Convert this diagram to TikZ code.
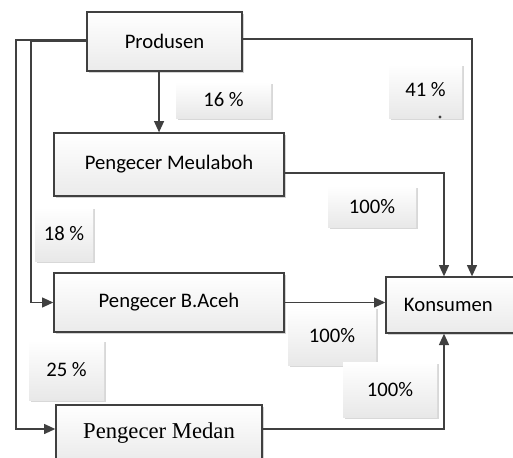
\documentclass[tikz,border=0pt]{standalone}
\usepackage{fontspec}
\setmainfont{Carlito}
\newfontfamily\tnr{Liberation Serif}
\usetikzlibrary{arrows.meta,shadows}
\definecolor{ln}{HTML}{404040}
\definecolor{shd}{HTML}{C8C8C8}
\tikzset{
  boxnode/.style={draw=ln, line width=1pt, top color=white, bottom color=black!8,
    inner sep=0pt, font=\fontsize{15.5}{18}\selectfont,
    drop shadow={shadow xshift=1.5pt, shadow yshift=-1.5pt, fill=shd, opacity=0.8}},
  lbl/.style={top color=white, bottom color=black!9, inner sep=0pt,
    font=\fontsize{15.5}{18}\selectfont,
    drop shadow={shadow xshift=1.5pt, shadow yshift=-1.5pt, fill=shd, opacity=0.7}},
  arr/.style={draw=ln, line width=1.1pt, -{Triangle[length=8.5pt,width=7.5pt]}},
  ln/.style={draw=ln, line width=1.1pt}
}
\begin{document}
\begin{tikzpicture}[x=0.75pt,y=-0.75pt]
\useasboundingbox (0,0) rectangle (513,457);
\clip (0,0) rectangle (513,457);
% labels
\node[lbl, minimum width=71.25pt, minimum height=27pt] (l16) at (223.5,100) {16 \%};
\node[lbl, minimum width=54.75pt, minimum height=40.5pt] (l41) at (425.5,91) {\raisebox{2pt}{41 \%}};
\fill[ln] (440,117) circle (0.5pt);
\node[lbl, minimum width=66pt, minimum height=30.75pt] (l100a) at (372,206.5) {100\%};
\node[lbl, minimum width=43.5pt, minimum height=40.5pt] (l18) at (64,234) {18 \%};
\node[lbl, minimum width=56.25pt, minimum height=45pt] (l25) at (66.5,370) {25 \%};
\node[lbl, minimum width=66pt, minimum height=43.5pt] (l100b) at (332,336) {100\%};
\node[lbl, minimum width=70.5pt, minimum height=41.25pt] (l100c) at (390,389.5) {100\%};
% boxes
\node[boxnode, minimum width=116.25pt, minimum height=44.25pt] (prod) at (164.5,41.5) {Produsen};
\node[boxnode, minimum width=172.5pt, minimum height=47.25pt] (meul) at (169,164.5) {Pengecer Meulaboh};
\node[boxnode, minimum width=172.5pt, minimum height=44.25pt] (aceh) at (169,302.5) {Pengecer B.Aceh};
\node[boxnode, minimum width=154.5pt, minimum height=42pt, font=\tnr\fontsize{17}{20}\selectfont] (medan) at (159,433) {Pengecer Medan};
\node[boxnode, minimum width=97.5pt, minimum height=42pt] (kons) at (451,305) {\hspace*{-4pt}Konsumen};
% connectors
\draw[arr] ([xshift=-4.1pt]prod.south) -- ([xshift=-4.1pt]prod.south |- meul.north);
\draw[arr] ([yshift=1.1pt]prod.west) -| (16,429) -- ([yshift=3pt]medan.west);
\draw[arr] (prod.west) -| (31,302.5) -- (aceh.west);
\draw[arr] ([yshift=1.9pt]prod.east) -| ([xshift=15.75pt]kons.north);
\draw[arr] ([yshift=-6.4pt]meul.east) -| ([xshift=-5.25pt]kons.north);
\draw[arr] (aceh.east) -- (aceh.east -| kons.west);
\draw[arr] ([yshift=3pt]medan.east) -| ([xshift=-5.25pt]kons.south);
\end{tikzpicture}
\end{document}
